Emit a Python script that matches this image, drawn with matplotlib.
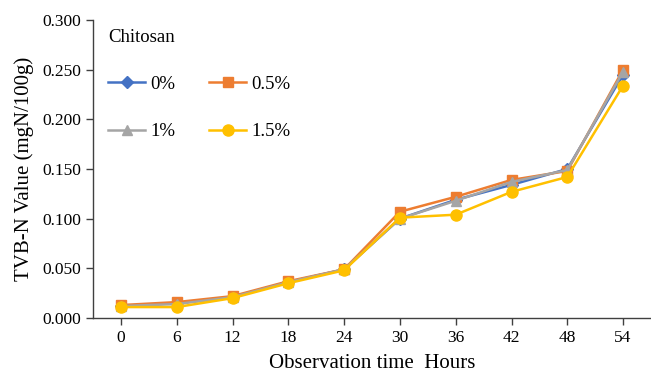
import numpy as np
import matplotlib.pyplot as plt

plt.rcParams['font.family'] = ['Liberation Serif', 'DejaVu Serif']

hours = ['0', '6', '12', '18', '24', '30', '36', '42', '48', '54']
tvbn_0 = [0.012, 0.015, 0.021, 0.036, 0.049, 0.100, 0.119, 0.134, 0.150, 0.245]
tvbn_05 = [0.013, 0.016, 0.022, 0.037, 0.049, 0.107, 0.122, 0.139, 0.148, 0.250]
tvbn_1 = [0.012, 0.014, 0.021, 0.036, 0.049, 0.100, 0.118, 0.137, 0.149, 0.248]
tvbn_15 = [0.011, 0.011, 0.020, 0.035, 0.048, 0.101, 0.104, 0.127, 0.142, 0.234]
labels = ['0%', '0.5%', '1%', '1.5%']

fig = plt.figure(figsize=(6.51, 3.75), dpi=100)
ax = fig.add_axes([93/651, 1 - 318/375, 1 - 93/651, 298/375])

x = np.arange(len(hours))
l0, = ax.plot(x, tvbn_0, color='#4472C4', marker='D', ms=6, lw=1.8, label=labels[0])
l05, = ax.plot(x, tvbn_05, color='#ED7D31', marker='s', ms=7, lw=1.8, label=labels[1])
l1, = ax.plot(x, tvbn_1, color='#A5A5A5', marker='^', ms=7, lw=1.8, label=labels[2])
l15, = ax.plot(x, tvbn_15, color='#FFC000', marker='o', ms=8, lw=1.8, label=labels[3])

ax.set_xlim(-0.5, len(hours) - 0.5)
ax.set_ylim(0, 0.3)
ax.set_xticks(x)
ax.set_xticklabels(hours)
yt = np.arange(0, 0.301, 0.05)
ax.set_yticks(yt)
ax.set_yticklabels([f'{v:.3f}' for v in yt])
ax.tick_params(labelsize=12.5, length=5, width=1, color='#404040', direction='out')

for s in ['top', 'right']:
    ax.spines[s].set_visible(False)
for s in ['left', 'bottom']:
    ax.spines[s].set_color('#404040')
    ax.spines[s].set_linewidth(1)

ax.set_xlabel('Observation time  Hours', fontsize=15, labelpad=6)
ax.set_ylabel('TVB-N Value (mgN/100g)', fontsize=15, labelpad=6)

# legend fills column-wise, so order handles to read 0%, 0.5% / 1%, 1.5% by row
leg = ax.legend([l0, l1, l05, l15], [labels[0], labels[2], labels[1], labels[3]],
                ncol=2, title='Chitosan', loc='upper left',
                bbox_to_anchor=(91/651, 1 - 12/375), bbox_transform=fig.transFigure,
                frameon=False, fontsize=13.5, title_fontsize=13.5, alignment='left',
                handlelength=2.0, labelspacing=1.6, columnspacing=1.8,
                handletextpad=0.25)

fig.savefig('out.png', dpi=100)
